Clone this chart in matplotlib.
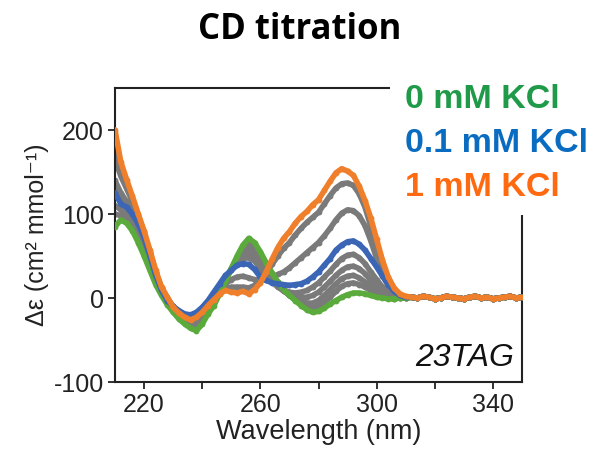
import matplotlib
matplotlib.use("Agg")
import matplotlib.pyplot as plt
from matplotlib.patches import Rectangle

# wavelength grid (nm) for the titration region, flat tail afterwards
wavelength = list(range(210, 311, 2)) + list(range(312, 351, 2))
tail = [1, 0, 2, 1, -1, 0, 2, 1, 0, -1, 1, 2, 0, 1, -1, 0, 1, 2, 0, 1]

kcl_0 = [85, 93, 89, 80, 66, 50, 33, 16, 3, -8, -17, -25, -31, -36, -39, -31, -19, -9, 5, 20,
         35, 50, 63, 71, 66, 55, 42, 30, 19, 10, 3, -3, -9, -14, -17, -16, -12, -7, -3, 1,
         4, 6, 6, 5, 3, 1, 0, -1, -1, 0, 0]
kcl_01 = [125, 112, 108, 100, 88, 72, 50, 27, 9, -3, -10, -15, -19, -20, -17, -11, -3, 7, 17, 27,
          33, 39, 41, 40, 34, 25, 21, 18, 17, 16, 15, 16, 17, 20, 25, 31, 39, 47, 57, 63,
          67, 68, 64, 57, 47, 37, 26, 16, 8, 3, 1]
kcl_1 = [200, 162, 141, 121, 100, 80, 57, 33, 13, 1, -11, -18, -23, -26, -23, -17, -9, -2, 5, 9,
         7, 6, 8, 5, 10, 18, 31, 46, 60, 71, 79, 89, 97, 103, 111, 117, 128, 139, 149, 154,
         151, 146, 133, 116, 95, 70, 45, 25, 12, 5, 2]

# intermediate titration points (grey)
grey_1 = [100, 98, 95, 85, 70, 55, 38, 20, 6, -6, -15, -23, -29, -33, -35, -28, -17, -6, 7, 21,
          35, 48, 59, 66, 62, 52, 40, 29, 19, 11, 4, -2, -7, -10, -12, -10, -5, 1, 8, 14,
          17, 18, 16, 13, 9, 5, 2, 0, -1, 0, 0]
grey_2 = [110, 105, 100, 90, 76, 60, 42, 23, 8, -4, -13, -21, -27, -31, -32, -25, -14, -3, 9, 22,
          35, 46, 55, 60, 56, 46, 35, 25, 16, 9, 3, -1, -4, -6, -6, -3, 3, 10, 17, 23,
          26, 27, 24, 19, 13, 8, 4, 1, 0, 0, 0]
grey_3 = [130, 118, 110, 98, 82, 64, 45, 25, 9, -3, -12, -19, -25, -28, -28, -21, -11, 0, 11, 23,
          34, 44, 51, 54, 50, 40, 30, 22, 14, 8, 4, 2, 1, 1, 3, 7, 13, 20, 27, 33,
          37, 38, 35, 29, 21, 14, 8, 4, 1, 0, 0]
grey_4 = [140, 125, 115, 102, 86, 68, 47, 26, 10, -2, -11, -17, -22, -24, -23, -17, -8, 3, 13, 24,
          33, 41, 47, 48, 44, 35, 26, 19, 13, 9, 7, 6, 7, 9, 13, 18, 25, 32, 40, 47,
          51, 52, 48, 41, 31, 22, 13, 7, 3, 1, 0]
grey_5 = [165, 145, 130, 115, 96, 76, 53, 30, 12, 0, -10, -17, -22, -24, -22, -16, -8, 2, 10, 17,
          22, 25, 26, 24, 22, 21, 22, 25, 28, 31, 36, 42, 48, 54, 60, 66, 74, 83, 93, 101,
          105, 104, 98, 86, 68, 47, 28, 14, 6, 2, 1]
grey_6 = [180, 155, 135, 118, 98, 78, 55, 31, 12, 0, -11, -18, -23, -25, -23, -17, -9, 0, 7, 11,
          13, 13, 13, 12, 15, 21, 30, 40, 50, 59, 66, 75, 83, 90, 96, 102, 112, 122, 131, 136,
          137, 134, 124, 108, 85, 59, 35, 18, 8, 3, 1]

greys = [grey_1, grey_2, grey_3, grey_4, grey_5, grey_6]

legend_labels = ["0 mM KCl", "0.1 mM KCl", "1 mM KCl"]
legend_colors = ["#1e9a48", "#0a6cc0", "#ff6a10"]

plt.rcParams["font.family"] = ["Liberation Sans", "DejaVu Sans"]
plt.rcParams["axes.unicode_minus"] = False

fig = plt.figure(figsize=(6, 4.57), dpi=100)
ax = fig.add_axes([0.1917, 0.1641, 0.6783, 0.6433])


def draw(vals, color, z):
    ax.plot(wavelength, vals + tail, "-o", color=color, lw=4, ms=4.2,
            mec=color, mew=0, zorder=z, solid_capstyle="round")


for g in greys:
    draw(g, "#7a7a7a", 2)
draw(kcl_0, "#5aaa3c", 3)
draw(kcl_01, "#3b66b5", 4)
draw(kcl_1, "#f07f2c", 5)

ax.set_xlim(210, 350)
ax.set_ylim(-100, 250)
ax.set_xticks(range(220, 341, 20))
ax.set_xticklabels(["220", "", "260", "", "300", "", "340"])
ax.set_yticks([-100, 0, 100, 200])
ax.tick_params(direction="out", length=5, width=1.3, labelsize=18, colors="#222222", pad=3)
for s in ax.spines.values():
    s.set_linewidth(1.5)
    s.set_color("#222222")

ax.set_xlabel("Wavelength (nm)", fontsize=19.5, color="#222222", labelpad=1)
ax.set_ylabel("Δε (cm² mmol⁻¹)", fontsize=18, color="#222222", labelpad=3)
ax.text(0.98, 0.03, "23TAG", transform=ax.transAxes, ha="right", va="bottom",
        fontsize=23, style="italic", color="#111111")

fig.text(0.5, 0.935, "CD titration", ha="center", va="center",
         fontsize=25, fontweight="bold", family="Open Sans")

# white box behind the legend text, covering the top-right frame
fig.patches.append(Rectangle((390 / 600, 1 - 215 / 457), 1, 140 / 457,
                             transform=fig.transFigure, facecolor="white",
                             edgecolor="none", zorder=5))
for i, (lab, col) in enumerate(zip(legend_labels, legend_colors)):
    fig.text(405 / 600, 1 - (100 + 43.5 * i) / 457, lab, ha="left", va="center",
             fontsize=24.5, fontweight="bold", color=col, zorder=6)

fig.savefig("out.png", dpi=100, facecolor="white")
